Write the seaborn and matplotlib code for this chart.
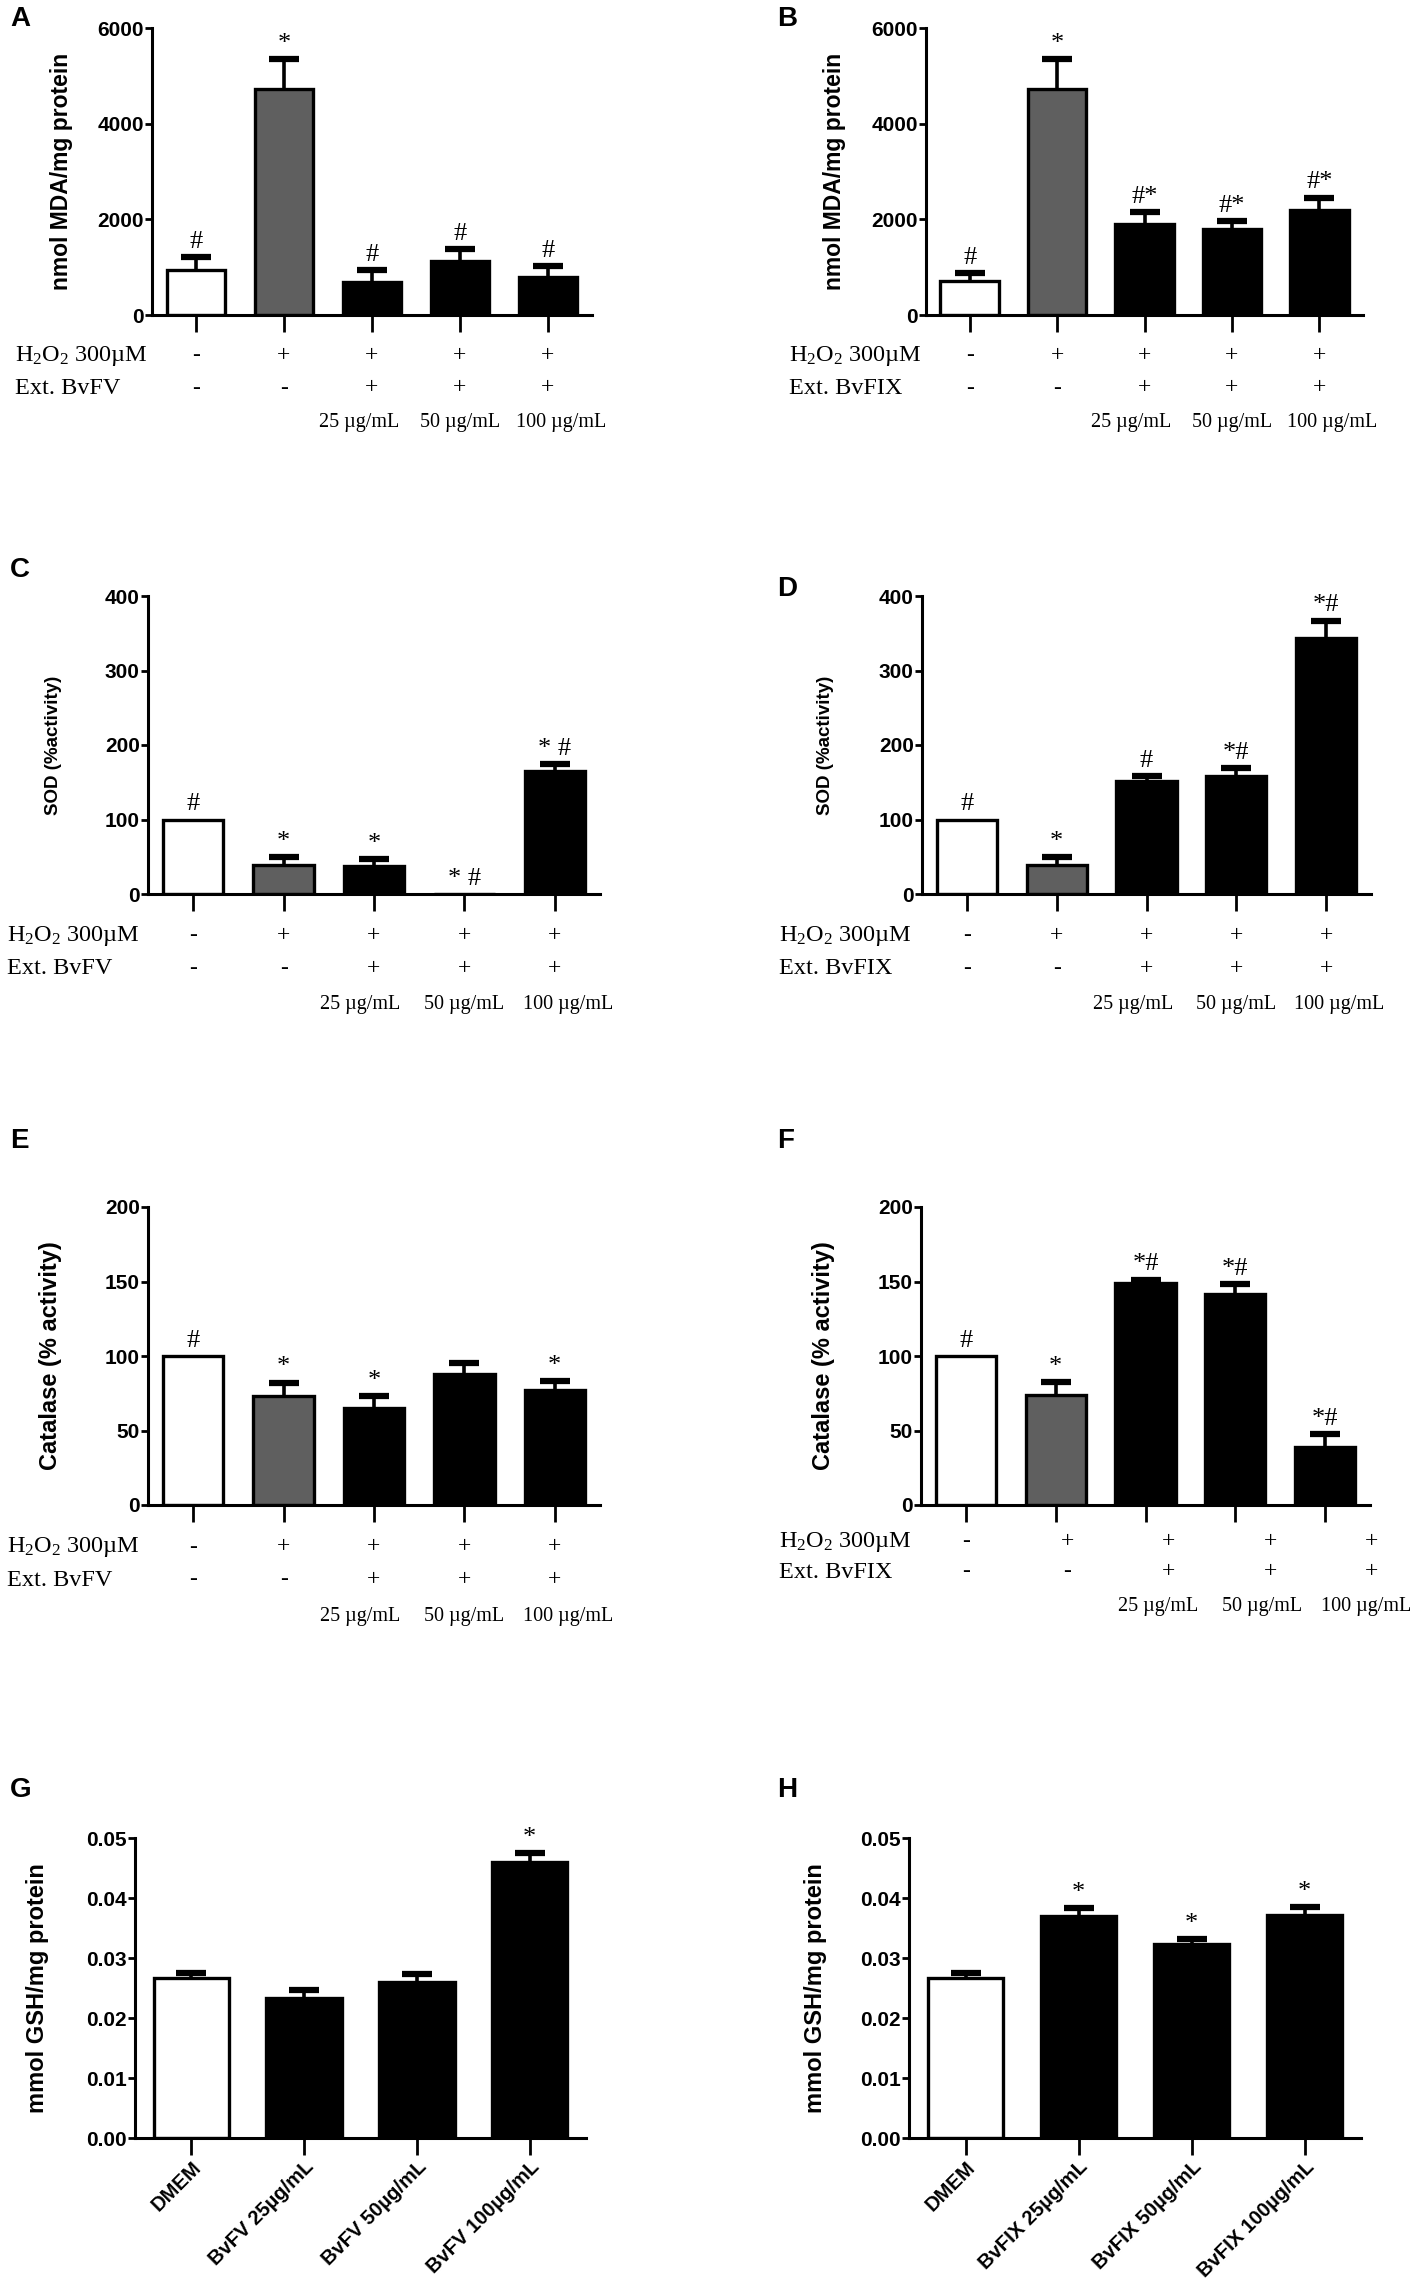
import numpy as np
import matplotlib
matplotlib.use('Agg')
import matplotlib.pyplot as plt
import matplotlib.transforms as mtransforms
from matplotlib import font_manager
import seaborn as sns

sns.set_style('ticks', {'axes.edgecolor': 'black', 'xtick.color': 'black',
                        'ytick.color': 'black', 'text.color': 'black',
                        'axes.labelcolor': 'black'})
plt.rcParams['font.family'] = ['Liberation Sans', 'DejaVu Sans']
plt.rcParams['mathtext.fontset'] = 'custom'
plt.rcParams['mathtext.rm'] = 'Liberation Serif'
plt.rcParams['mathtext.it'] = 'Liberation Serif:italic'

installed = {f.name for f in font_manager.fontManager.ttflist}
NARROW = 'Liberation Sans Narrow' if 'Liberation Sans Narrow' in installed else 'Liberation Sans'
TICK_SIZE = 17 if NARROW == 'Liberation Sans Narrow' else 15

W, H = 1417, 2289

# ---- data ----
groups5 = ['ctrl', 'h2o2', 'c25', 'c50', 'c100']
colors5 = ['white', '#5f5f5f', 'black', 'black', 'black']

h2o2_row = ['-', '+', '+', '+', '+']
ext_row = ['-', '-', '+', '+', '+']
conc_row = ['', '', '25 µg/mL', '50 µg/mL', '100 µg/mL']

mda_bvfv = [940, 4735, 695, 1135, 800]
mda_bvfv_err = [265, 620, 245, 245, 222]
mda_bvfv_sig = ['#', '*', '#', '#', '#']

mda_bvfix = [716, 4735, 1912, 1794, 2190]
mda_bvfix_err = [160, 620, 243, 173, 264]
mda_bvfix_sig = ['#', '*', '#*', '#*', '#*']

sod_bvfv = [100, 39, 38, 0, 165]
sod_bvfv_err = [0, 10, 8.5, 0, 9]
sod_bvfv_sig = ['#', '*', '*', '* #', '* #']

sod_bvfix = [100, 39, 151.5, 158, 343]
sod_bvfix_err = [0, 10, 7, 11, 24]
sod_bvfix_sig = ['#', '*', '#', '*#', '*#']

cat_bvfv = [100, 73.3, 65.4, 88, 76.9]
cat_bvfv_err = [0, 8.9, 7.6, 7.5, 6]
cat_bvfv_sig = ['#', '*', '*', '', '*']

cat_bvfix = [100, 73.5, 149.3, 141.3, 38.8]
cat_bvfix_err = [0, 9, 2, 7.1, 8.7]
cat_bvfix_sig = ['#', '*', '*#', '*#', '*#']

gsh_bvfv_labels = ['DMEM', 'BvFV 25µg/mL', 'BvFV 50µg/mL', 'BvFV 100µg/mL']
gsh_bvfv = [0.0267, 0.0233, 0.0260, 0.0460]
gsh_bvfv_err = [0.00075, 0.00144, 0.00133, 0.00153]
gsh_bvfv_sig = ['', '', '', '*']

gsh_bvfix_labels = ['DMEM', 'BvFIX 25µg/mL', 'BvFIX 50µg/mL', 'BvFIX 100µg/mL']
gsh_bvfix = [0.0267, 0.03705, 0.03234, 0.03717]
gsh_bvfix_err = [0.00075, 0.00133, 0.0008, 0.00133]
gsh_bvfix_sig = ['', '*', '*', '*']
colors4 = ['white', 'black', 'black', 'black']

fig = plt.figure(figsize=(W / 100, H / 100), dpi=100)


def add_panel(box, cats, vals, errs, sig, colors, ylim, yticks, fmt,
              ylabel, ylabel_size, label_x):
    l, t, r, b = box
    ax = fig.add_axes([l / W, 1 - b / H, (r - l) / W, (b - t) / H])
    sns.barplot(x=cats, y=vals, hue=cats, palette=colors, legend=False,
                width=0.67, saturation=1, edgecolor='black', linewidth=2.4,
                errorbar=None, ax=ax)
    x = np.arange(len(vals))
    v = np.array(vals, dtype=float)
    e = np.array(errs, dtype=float)
    m = e > 0
    eb = ax.errorbar(x[m], v[m], yerr=[np.zeros(m.sum()), e[m]], fmt='none',
                     ecolor='black', elinewidth=2.6, capsize=11, capthick=4.5,
                     zorder=3)
    # only the upper cap, GraphPad style
    eb.lines[1][0].set_visible(False)
    for xi, (vi, ei, s) in enumerate(zip(v, e, sig)):
        if s:
            ax.annotate(s, (xi, vi + ei), xytext=(0, 3), textcoords='offset points',
                        ha='center', va='bottom', fontsize=19,
                        family='Liberation Serif', annotation_clip=False)
    ax.set_xlim(-0.5, len(vals) - 0.5)
    ax.set_ylim(*ylim)
    ax.set_yticks(yticks, labels=[fmt % y for y in yticks], fontfamily=NARROW,
                  fontweight='bold', fontsize=TICK_SIZE)
    sns.despine(ax=ax)
    for sp in ['left', 'bottom']:
        ax.spines[sp].set_linewidth(2.2)
    ax.tick_params(axis='y', length=5, width=2, pad=1)
    ax.tick_params(axis='x', length=12, width=2)
    ax.set_xlabel('')
    ax.set_ylabel(ylabel, fontsize=ylabel_size, fontweight='bold', va='center')
    ax.yaxis.set_label_coords(label_x, 0.5)
    return ax


def add_table(ax, ext_name, label_left, rows_y, stretch=1.0, conc_mid=3.0, conc_k=1.15):
    tr = mtransforms.blended_transform_factory(ax.transData, fig.transFigure)
    y1, y2, y3 = [1 - y / H for y in rows_y]
    fig.text(label_left / W, y1, 'H$_2$O$_2$ 300µM', family='Liberation Serif',
             fontsize=17.5, ha='left', va='center')
    fig.text(label_left / W, y2, ext_name, family='Liberation Serif',
             fontsize=17.5, ha='left', va='center')
    for i, (a, b, c) in enumerate(zip(h2o2_row, ext_row, conc_row)):
        xi = i * stretch
        ax.text(xi, y1, a, transform=tr, family='Liberation Serif', fontsize=17,
                ha='center', va='center')
        ax.text(xi, y2, b, transform=tr, family='Liberation Serif', fontsize=17,
                ha='center', va='center')
        xc = conc_mid + (i - 3) * conc_k
        ax.text(xc, y3, c, transform=tr, family='Liberation Serif', fontsize=14.5,
                ha='center', va='center')
    ax.set_xticks(range(len(h2o2_row)), labels=[''] * len(h2o2_row))


def letter(x, y, s):
    fig.text(x / W, 1 - y / H, s, fontsize=20, fontweight='bold', ha='left', va='top')


# ---- A / B: MDA ----
mda_ticks = [0, 2000, 4000, 6000]
axA = add_panel((152, 28, 592, 315), groups5, mda_bvfv, mda_bvfv_err, mda_bvfv_sig,
                colors5, (0, 6000), mda_ticks, '%d', 'nmol MDA/mg protein', 16.5, -0.205)
add_table(axA, 'Ext. BvFV', 15, (356, 388, 423))
axB = add_panel((926, 28, 1363, 315), groups5, mda_bvfix, mda_bvfix_err, mda_bvfix_sig,
                colors5, (0, 6000), mda_ticks, '%d', 'nmol MDA/mg protein', 16.5, -0.21)
add_table(axB, 'Ext. BvFIX', 789, (356, 388, 423))

# ---- C / D: SOD ----
sod_ticks = [0, 100, 200, 300, 400]
axC = add_panel((148, 596, 600, 894), groups5, sod_bvfv, sod_bvfv_err, sod_bvfv_sig,
                colors5, (0, 400), sod_ticks, '%d', 'SOD (%activity)', 13.5, -0.21)
add_table(axC, 'Ext. BvFV', 7, (936, 969, 1005))
axD = add_panel((922, 596, 1371, 894), groups5, sod_bvfix, sod_bvfix_err, sod_bvfix_sig,
                colors5, (0, 400), sod_ticks, '%d', 'SOD (%activity)', 13.5, -0.214)
add_table(axD, 'Ext. BvFIX', 779, (936, 969, 1005))

# ---- E / F: Catalase ----
cat_ticks = [0, 50, 100, 150, 200]
axE = add_panel((148, 1207, 600, 1505), groups5, cat_bvfv, cat_bvfv_err, cat_bvfv_sig,
                colors5, (0, 200), cat_ticks, '%d', 'Catalase (% activity)', 17, -0.215)
add_table(axE, 'Ext. BvFV', 7, (1547, 1580, 1616))
axF = add_panel((921, 1207, 1370, 1505), groups5, cat_bvfix, cat_bvfix_err, cat_bvfix_sig,
                colors5, (0, 200), cat_ticks, '%d', 'Catalase (% activity)', 17, -0.218)
add_table(axF, 'Ext. BvFIX', 779, (1542, 1572, 1606), stretch=1.13, conc_mid=3.3, conc_k=1.16)

# ---- G / H: GSH ----
gsh_ticks = [0, 0.01, 0.02, 0.03, 0.04, 0.05]
axG = add_panel((135, 1838, 586, 2138), gsh_bvfv_labels, gsh_bvfv, gsh_bvfv_err, gsh_bvfv_sig,
                colors4, (0, 0.05), gsh_ticks, '%.2f', 'mmol GSH/mg protein', 17, -0.216)
axH = add_panel((909, 1838, 1361, 2138), gsh_bvfix_labels, gsh_bvfix, gsh_bvfix_err, gsh_bvfix_sig,
                colors4, (0, 0.05), gsh_ticks, '%.2f', 'mmol GSH/mg protein', 17, -0.206)
for ax, labs in [(axG, gsh_bvfv_labels), (axH, gsh_bvfix_labels)]:
    ax.set_xticks(range(len(labs)), labels=labs, rotation=45, ha='right',
                  rotation_mode='anchor', fontweight='bold', fontsize=14.5)
    ax.tick_params(axis='x', pad=2)

for s, x, y in [('A', 10, 6), ('B', 777, 6), ('C', 10, 557), ('D', 777, 576),
                ('E', 10, 1128), ('F', 777, 1128), ('G', 10, 1777), ('H', 777, 1777)]:
    letter(x, y, s)

fig.savefig('out.png', dpi=100)
